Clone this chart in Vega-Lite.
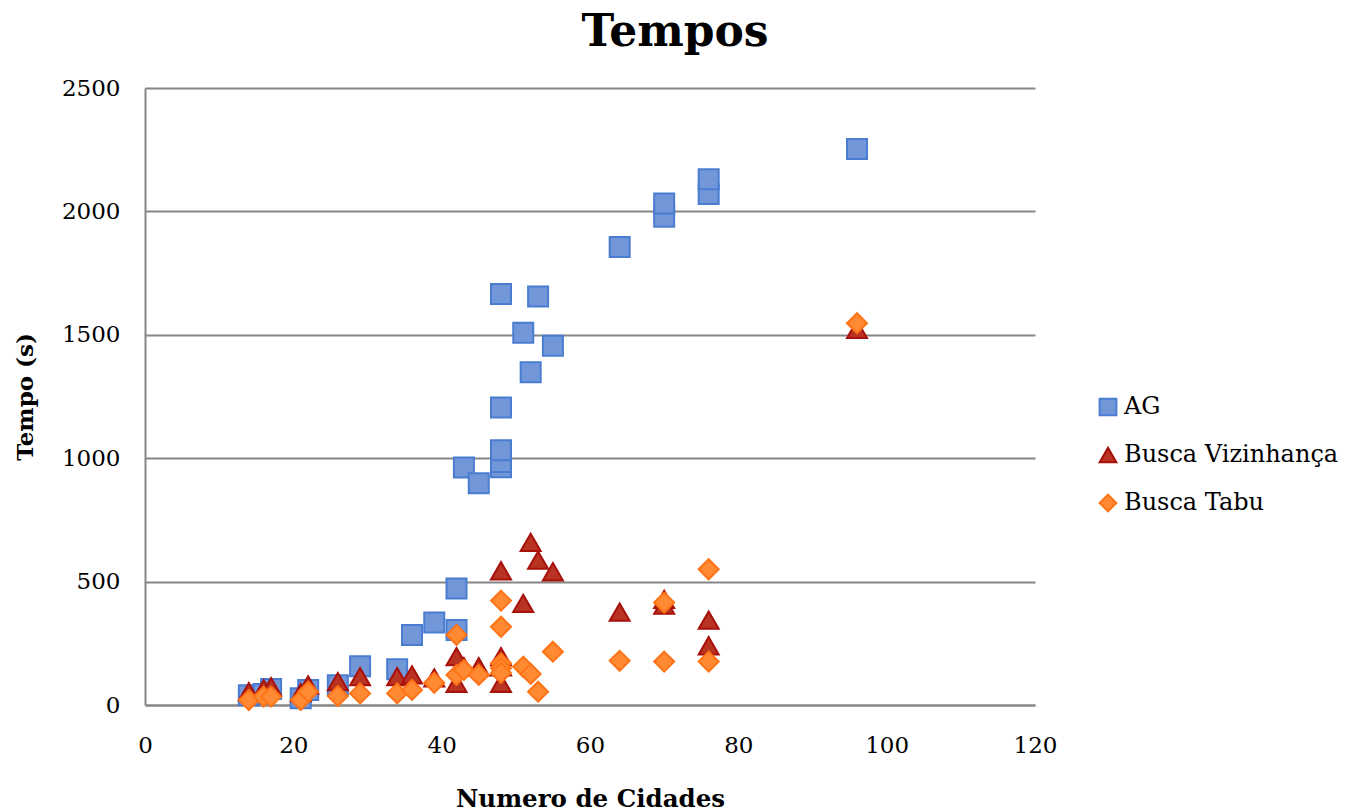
{
  "$schema": "https://vega.github.io/schema/vega-lite/v6.json",
  "width": 890,
  "height": 617,
  "autosize": {"type": "none"},
  "padding": {"left": 145, "top": 88, "right": 314, "bottom": 107},
  "background": "white",
  "title": {
    "text": "Tempos",
    "font": "DejaVu Serif",
    "fontSize": 44,
    "fontWeight": "bold",
    "color": "#000000",
    "anchor": "middle",
    "dx": 85,
    "offset": 22
  },
  "config": {
    "view": {"stroke": null},
    "axis": {
      "labelFont": "DejaVu Serif",
      "titleFont": "DejaVu Serif",
      "labelColor": "#000000",
      "titleColor": "#000000",
      "domainColor": "#868686",
      "domainWidth": 2,
      "gridColor": "#868686",
      "gridWidth": 2,
      "gridOpacity": 1,
      "ticks": false
    },
    "legend": {
      "labelFont": "DejaVu Serif",
      "labelColor": "#000000"
    }
  },
  "data": {
    "values": [
      {"serie": "AG", "cidades": 14, "tempo": 40},
      {"serie": "AG", "cidades": 16, "tempo": 45},
      {"serie": "AG", "cidades": 17, "tempo": 65},
      {"serie": "AG", "cidades": 21, "tempo": 27},
      {"serie": "AG", "cidades": 22, "tempo": 61},
      {"serie": "AG", "cidades": 26, "tempo": 80},
      {"serie": "AG", "cidades": 29, "tempo": 157},
      {"serie": "AG", "cidades": 34, "tempo": 145},
      {"serie": "AG", "cidades": 36, "tempo": 284},
      {"serie": "AG", "cidades": 39, "tempo": 334},
      {"serie": "AG", "cidades": 42, "tempo": 472},
      {"serie": "AG", "cidades": 42, "tempo": 304},
      {"serie": "AG", "cidades": 43, "tempo": 962},
      {"serie": "AG", "cidades": 45, "tempo": 898},
      {"serie": "AG", "cidades": 48, "tempo": 1665},
      {"serie": "AG", "cidades": 48, "tempo": 1205},
      {"serie": "AG", "cidades": 48, "tempo": 963},
      {"serie": "AG", "cidades": 48, "tempo": 985},
      {"serie": "AG", "cidades": 48, "tempo": 1032},
      {"serie": "AG", "cidades": 51, "tempo": 1508},
      {"serie": "AG", "cidades": 52, "tempo": 1348},
      {"serie": "AG", "cidades": 53, "tempo": 1655},
      {"serie": "AG", "cidades": 55, "tempo": 1456},
      {"serie": "AG", "cidades": 64, "tempo": 1856},
      {"serie": "AG", "cidades": 70, "tempo": 1978},
      {"serie": "AG", "cidades": 70, "tempo": 2032},
      {"serie": "AG", "cidades": 76, "tempo": 2071},
      {"serie": "AG", "cidades": 76, "tempo": 2130},
      {"serie": "AG", "cidades": 96, "tempo": 2253},
      {"serie": "Busca Vizinhança", "cidades": 14, "tempo": 54},
      {"serie": "Busca Vizinhança", "cidades": 16, "tempo": 65},
      {"serie": "Busca Vizinhança", "cidades": 17, "tempo": 74},
      {"serie": "Busca Vizinhança", "cidades": 21, "tempo": 50},
      {"serie": "Busca Vizinhança", "cidades": 22, "tempo": 81},
      {"serie": "Busca Vizinhança", "cidades": 26, "tempo": 95},
      {"serie": "Busca Vizinhança", "cidades": 29, "tempo": 115},
      {"serie": "Busca Vizinhança", "cidades": 34, "tempo": 115},
      {"serie": "Busca Vizinhança", "cidades": 36, "tempo": 122},
      {"serie": "Busca Vizinhança", "cidades": 39, "tempo": 110},
      {"serie": "Busca Vizinhança", "cidades": 42, "tempo": 196},
      {"serie": "Busca Vizinhança", "cidades": 42, "tempo": 88},
      {"serie": "Busca Vizinhança", "cidades": 43, "tempo": 155},
      {"serie": "Busca Vizinhança", "cidades": 45, "tempo": 155},
      {"serie": "Busca Vizinhança", "cidades": 48, "tempo": 544},
      {"serie": "Busca Vizinhança", "cidades": 48, "tempo": 196},
      {"serie": "Busca Vizinhança", "cidades": 48, "tempo": 155},
      {"serie": "Busca Vizinhança", "cidades": 48, "tempo": 88},
      {"serie": "Busca Vizinhança", "cidades": 51, "tempo": 412},
      {"serie": "Busca Vizinhança", "cidades": 52, "tempo": 659},
      {"serie": "Busca Vizinhança", "cidades": 53, "tempo": 587},
      {"serie": "Busca Vizinhança", "cidades": 55, "tempo": 540},
      {"serie": "Busca Vizinhança", "cidades": 64, "tempo": 376},
      {"serie": "Busca Vizinhança", "cidades": 70, "tempo": 428},
      {"serie": "Busca Vizinhança", "cidades": 70, "tempo": 405},
      {"serie": "Busca Vizinhança", "cidades": 76, "tempo": 344},
      {"serie": "Busca Vizinhança", "cidades": 76, "tempo": 240},
      {"serie": "Busca Vizinhança", "cidades": 96, "tempo": 1522},
      {"serie": "Busca Tabu", "cidades": 14, "tempo": 20},
      {"serie": "Busca Tabu", "cidades": 16, "tempo": 34},
      {"serie": "Busca Tabu", "cidades": 17, "tempo": 34},
      {"serie": "Busca Tabu", "cidades": 21, "tempo": 20},
      {"serie": "Busca Tabu", "cidades": 22, "tempo": 54},
      {"serie": "Busca Tabu", "cidades": 26, "tempo": 36},
      {"serie": "Busca Tabu", "cidades": 29, "tempo": 47},
      {"serie": "Busca Tabu", "cidades": 34, "tempo": 47},
      {"serie": "Busca Tabu", "cidades": 36, "tempo": 61},
      {"serie": "Busca Tabu", "cidades": 39, "tempo": 90},
      {"serie": "Busca Tabu", "cidades": 42, "tempo": 284},
      {"serie": "Busca Tabu", "cidades": 42, "tempo": 122},
      {"serie": "Busca Tabu", "cidades": 43, "tempo": 142},
      {"serie": "Busca Tabu", "cidades": 45, "tempo": 122},
      {"serie": "Busca Tabu", "cidades": 48, "tempo": 423},
      {"serie": "Busca Tabu", "cidades": 48, "tempo": 317},
      {"serie": "Busca Tabu", "cidades": 48, "tempo": 169},
      {"serie": "Busca Tabu", "cidades": 48, "tempo": 150},
      {"serie": "Busca Tabu", "cidades": 48, "tempo": 130},
      {"serie": "Busca Tabu", "cidades": 51, "tempo": 155},
      {"serie": "Busca Tabu", "cidades": 52, "tempo": 126},
      {"serie": "Busca Tabu", "cidades": 53, "tempo": 54},
      {"serie": "Busca Tabu", "cidades": 55, "tempo": 216},
      {"serie": "Busca Tabu", "cidades": 64, "tempo": 179},
      {"serie": "Busca Tabu", "cidades": 70, "tempo": 176},
      {"serie": "Busca Tabu", "cidades": 70, "tempo": 415},
      {"serie": "Busca Tabu", "cidades": 76, "tempo": 550},
      {"serie": "Busca Tabu", "cidades": 76, "tempo": 176},
      {"serie": "Busca Tabu", "cidades": 96, "tempo": 1547}
    ]
  },
  "mark": {"type": "point", "filled": true, "opacity": 1, "strokeWidth": 2, "size": 400},
  "encoding": {
    "x": {
      "field": "cidades",
      "type": "quantitative",
      "scale": {"domain": [0, 120], "nice": false, "zero": true},
      "axis": {
        "values": [0, 20, 40, 60, 80, 100, 120],
        "format": "d",
        "grid": false,
        "title": "Numero de Cidades",
        "titleFontSize": 24.5,
        "titleFontWeight": "bold",
        "titlePadding": 30,
        "labelFontSize": 23,
        "labelPadding": 29,
        "labelFlush": false
      }
    },
    "y": {
      "field": "tempo",
      "type": "quantitative",
      "scale": {"domain": [0, 2500], "nice": false},
      "axis": {
        "values": [0, 500, 1000, 1500, 2000, 2500],
        "format": "d",
        "grid": true,
        "title": "Tempo  (s)",
        "titleFontSize": 23,
        "titleFontWeight": "bold",
        "titlePadding": 24,
        "labelFontSize": 23,
        "labelPadding": 25,
        "labelFlush": false
      }
    },
    "shape": {
      "field": "serie",
      "type": "nominal",
      "sort": null,
      "scale": {"domain": ["AG", "Busca Vizinhança", "Busca Tabu"], "range": ["square", "triangle-up", "diamond"]},
      "legend": {
        "title": null,
        "orient": "none",
        "legendX": 951,
        "legendY": 307,
        "padding": 0,
        "labelFontSize": 24,
        "labelOffset": 4,
        "labelLimit": 400,
        "rowPadding": 23,
        "symbolSize": 280,
        "symbolStrokeWidth": 2,
        "symbolOpacity": 1
      }
    },
    "fill": {
      "field": "serie",
      "type": "nominal",
      "sort": null,
      "scale": {"domain": ["AG", "Busca Vizinhança", "Busca Tabu"], "range": ["#7297D9", "#B83321", "#FF8A33"]},
      "legend": null
    },
    "stroke": {
      "field": "serie",
      "type": "nominal",
      "sort": null,
      "scale": {"domain": ["AG", "Busca Vizinhança", "Busca Tabu"], "range": ["#4A7DD1", "#A8110B", "#FF7316"]},
      "legend": null
    }
  }
}
